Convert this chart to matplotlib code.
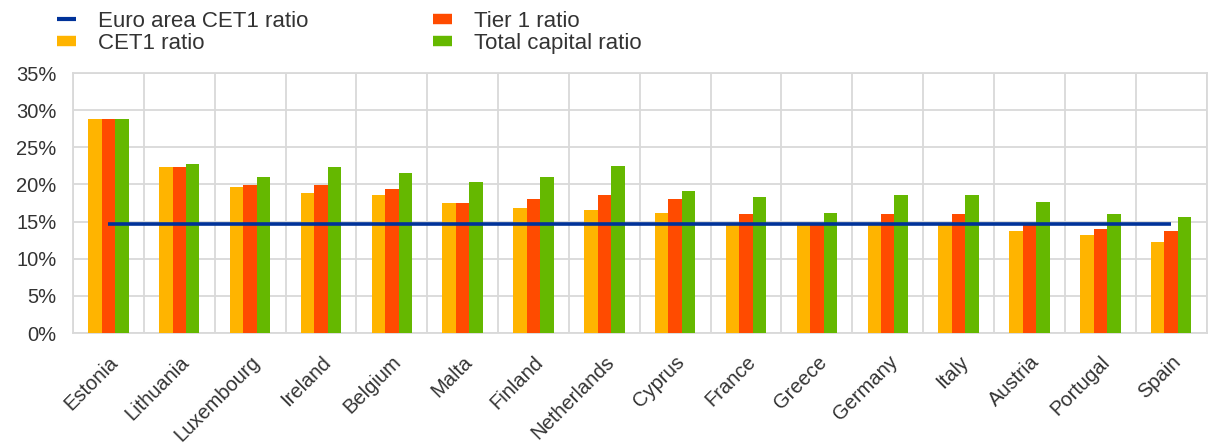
import matplotlib.pyplot as plt
from matplotlib.lines import Line2D
from matplotlib.ticker import FuncFormatter
import numpy as np

# Datos del grafico
countries = ['Estonia', 'Lithuania', 'Luxembourg', 'Ireland', 'Belgium', 'Malta',
             'Finland', 'Netherlands', 'Cyprus', 'France', 'Greece', 'Germany',
             'Italy', 'Austria', 'Portugal', 'Spain']
cet1 = [28.8, 22.3, 19.7, 18.9, 18.6, 17.5, 16.8, 16.5, 16.2, 14.7, 14.7, 14.7,
        14.7, 13.7, 13.2, 12.2]
tier1 = [28.8, 22.3, 19.9, 19.9, 19.4, 17.5, 18.1, 18.6, 18.1, 16.0, 14.7, 16.0,
         16.0, 14.7, 14.0, 13.7]
total = [28.8, 22.8, 21.0, 22.3, 21.5, 20.4, 21.0, 22.5, 19.1, 18.3, 16.2, 18.6,
         18.6, 17.7, 16.0, 15.6]
euro_area_cet1 = 14.7

yellow = '#FFB400'
red = '#FF4B00'
green = '#65B800'
blue = '#003299'
grid_col = '#D9D9D9'
text_col = '#333333'

plt.rcParams['font.family'] = ['Liberation Sans', 'DejaVu Sans']

fig = plt.figure(figsize=(12.09, 4.43), dpi=100)
ax = fig.add_axes([0.0604, 0.2483, 0.9376, 0.5867])

x = np.arange(len(countries))
w = 0.19
ax.bar(x - w, cet1, w, color=yellow, zorder=3)
ax.bar(x, tier1, w, color=red, zorder=3)
ax.bar(x + w, total, w, color=green, zorder=3)
# Linea de la media de la zona euro
ax.plot([x[0], x[-1]], [euro_area_cet1, euro_area_cet1], color=blue, lw=2.6,
        solid_capstyle='butt', zorder=4)

ax.set_xlim(-0.5, len(countries) - 0.5)
ax.set_ylim(0, 35)
ax.set_yticks(np.arange(0, 36, 5))
ax.yaxis.set_major_formatter(FuncFormatter(lambda v, p: '%d%%' % v))
ax.set_xticks(x)
ax.set_xticklabels(countries, rotation=45, ha='right', rotation_mode='anchor')
ax.set_xticks(np.arange(-0.5, len(countries)), minor=True)

ax.grid(False)
ax.yaxis.grid(True, color=grid_col, lw=1.3, zorder=0)
ax.xaxis.grid(True, which='minor', color=grid_col, lw=1.3, zorder=0)
for s in ax.spines.values():
    s.set_color(grid_col)
    s.set_linewidth(1.3)
ax.tick_params(axis='both', which='both', length=0, labelsize=14.5, colors=text_col)
ax.tick_params(axis='x', pad=14)
ax.tick_params(axis='y', pad=12)

handles = [
    Line2D([0], [0], color=blue, lw=3, solid_capstyle='butt'),
    Line2D([0], [0], color=yellow, lw=7.5, solid_capstyle='butt'),
    Line2D([0], [0], color=red, lw=7.5, solid_capstyle='butt'),
    Line2D([0], [0], color=green, lw=7.5, solid_capstyle='butt'),
]
labels = ['Euro area CET1 ratio', 'CET1 ratio', 'Tier 1 ratio', 'Total capital ratio']
leg = fig.legend(handles, labels, ncol=2, loc='upper left',
                 bbox_to_anchor=(0.047, 0.975), frameon=False, fontsize=16,
                 handlelength=0.85, handletextpad=1.0, labelspacing=0.05,
                 columnspacing=5.6, borderpad=0, borderaxespad=0)
for t in leg.get_texts():
    t.set_color(text_col)

plt.savefig('out.png', dpi=100)
plt.close()
